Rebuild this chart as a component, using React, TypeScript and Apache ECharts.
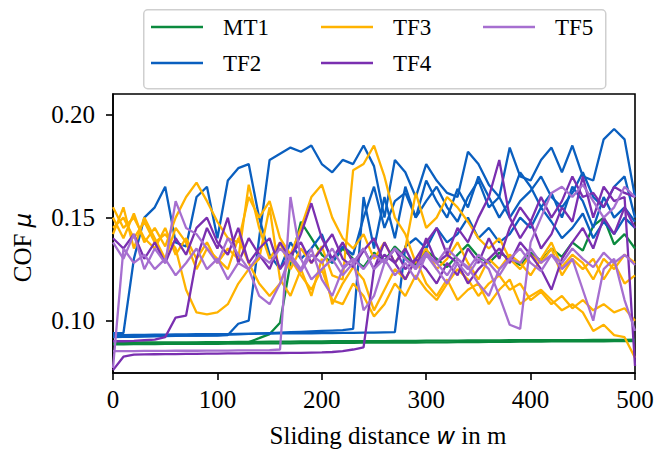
import React, { useEffect, useRef } from "react";
import * as echarts from "echarts";

// Sliding distance w in m (sample grid)
const distance = [
  0, 10, 20, 30, 40, 50, 60, 70, 80, 90,
  100, 110, 120, 130, 140, 150, 160, 170, 180, 190,
  200, 210, 220, 230, 240, 250, 260, 270, 280, 290,
  300, 310, 320, 330, 340, 350, 360, 370, 380, 390,
  400, 410, 420, 430, 440, 450, 460, 470, 480, 490,
  500,
];

// MT1 runs
const mt1Run1 = [
  0.0885, 0.0885, 0.0886, 0.0886, 0.0886, 0.0887, 0.0887, 0.0887, 0.0888, 0.0888,
  0.0888, 0.0889, 0.0889, 0.0889, 0.0890, 0.0890, 0.0890, 0.0890, 0.0891, 0.0891,
  0.0891, 0.0892, 0.0892, 0.0892, 0.0893, 0.0893, 0.0893, 0.0894, 0.0894, 0.0894,
  0.0895, 0.0895, 0.0895, 0.0896, 0.0896, 0.0896, 0.0897, 0.0897, 0.0897, 0.0898,
  0.0898, 0.0898, 0.0899, 0.0899, 0.0899, 0.0900, 0.0900, 0.0900, 0.0901, 0.0901,
  0.0901,
];
const mt1Run2 = [
  0.0893, 0.0893, 0.0893, 0.0894, 0.0894, 0.0894, 0.0895, 0.0895, 0.0895, 0.0896,
  0.0896, 0.0896, 0.0897, 0.0897, 0.0897, 0.0898, 0.0898, 0.0898, 0.0899, 0.0899,
  0.0899, 0.0900, 0.0900, 0.0900, 0.0901, 0.0901, 0.0901, 0.0902, 0.0902, 0.0902,
  0.0903, 0.0903, 0.0903, 0.0903, 0.0904, 0.0904, 0.0904, 0.0904, 0.0905, 0.0905,
  0.0905, 0.0905, 0.0906, 0.0906, 0.0906, 0.0906, 0.0907, 0.0907, 0.0907, 0.0907,
  0.0908,
];
const mt1Run3 = [
  0.0890, 0.0890, 0.0890, 0.0890, 0.0891, 0.0891, 0.0891, 0.0891, 0.0892, 0.0892,
  0.0892, 0.0893, 0.0893, 0.0896, 0.0915, 0.0935, 0.0990, 0.1280, 0.1480, 0.1400,
  0.1320, 0.1280, 0.1350, 0.1300, 0.1260, 0.1330, 0.1290, 0.1360, 0.1310, 0.1270,
  0.1340, 0.1300, 0.1260, 0.1320, 0.1370, 0.1310, 0.1280, 0.1330, 0.1300, 0.1270,
  0.1330, 0.1290, 0.1350, 0.1310, 0.1380, 0.1340, 0.1460, 0.1500, 0.1370, 0.1420,
  0.1350,
];

// TF2 runs
const tf2Run1 = [
  0.0940, 0.0940, 0.1300, 0.1500, 0.1550, 0.1650, 0.1380, 0.1360, 0.1600, 0.1650,
  0.1400, 0.1680, 0.1740, 0.1760, 0.1500, 0.1320, 0.1250, 0.1380, 0.1300, 0.1350,
  0.1420, 0.1280, 0.1360, 0.1320, 0.1500, 0.1650, 0.1450, 0.1580, 0.1620, 0.1500,
  0.1580, 0.1650, 0.1550, 0.1480, 0.1600, 0.1680, 0.1550, 0.1600, 0.1500, 0.1580,
  0.1630, 0.1700, 0.1600, 0.1550, 0.1620, 0.1720, 0.1600, 0.1550, 0.1650, 0.1700,
  0.1500,
];
const tf2Run2 = [
  0.0925, 0.0925, 0.0925, 0.0926, 0.0926, 0.0926, 0.0927, 0.0927, 0.0927, 0.0928,
  0.0928, 0.0930, 0.0985, 0.1000, 0.1400, 0.1780, 0.1810, 0.1840, 0.1820, 0.1850,
  0.1760, 0.1720, 0.1780, 0.1760, 0.1850, 0.1750, 0.1500, 0.1780, 0.1720, 0.1600,
  0.1760, 0.1680, 0.1620, 0.1600, 0.1820, 0.1760, 0.1660, 0.1600, 0.1840, 0.1700,
  0.1680, 0.1780, 0.1840, 0.1720, 0.1850, 0.1700, 0.1680, 0.1880, 0.1930, 0.1880,
  0.1600,
];
const tf2Run3 = [
  0.0920, 0.0921, 0.0922, 0.0923, 0.0924, 0.0925, 0.0926, 0.0927, 0.0928, 0.0929,
  0.0930, 0.0932, 0.0934, 0.0936, 0.0938, 0.0940, 0.0942, 0.0944, 0.0946, 0.0948,
  0.0950, 0.0952, 0.0954, 0.0960, 0.1600, 0.1350, 0.1600, 0.1400, 0.1650, 0.1500,
  0.1680, 0.1580, 0.1500, 0.1640, 0.1550, 0.1700, 0.1600, 0.1500, 0.1580, 0.1720,
  0.1650, 0.1550, 0.1620, 0.1500, 0.1650, 0.1580, 0.1450, 0.1600, 0.1500, 0.1550,
  0.1480,
];
const tf2Run4 = [
  0.0930, 0.0930, 0.0931, 0.0931, 0.0932, 0.0932, 0.0933, 0.0933, 0.0934, 0.0934,
  0.0935, 0.0935, 0.0936, 0.0936, 0.0937, 0.0937, 0.0938, 0.0938, 0.0939, 0.0939,
  0.0940, 0.0940, 0.0941, 0.0941, 0.0942, 0.0942, 0.0943, 0.0944, 0.1360, 0.1400,
  0.1350, 0.1450, 0.1380, 0.1420, 0.1500, 0.1400, 0.1450, 0.1380, 0.1420, 0.1500,
  0.1450, 0.1550, 0.1480, 0.1400, 0.1450, 0.1520, 0.1400, 0.1480, 0.1420, 0.1500,
  0.1450,
];

// TF3 runs
const tf3Run1 = [
  0.1500, 0.1400, 0.1520, 0.1380, 0.1450, 0.1360, 0.1500, 0.1600, 0.1670, 0.1580,
  0.1480, 0.1400, 0.1380, 0.1600, 0.1500, 0.1580, 0.1400, 0.1320, 0.1450, 0.1600,
  0.1660, 0.1500, 0.1400, 0.1350, 0.1420, 0.1300, 0.1380, 0.1280, 0.1350, 0.1620,
  0.1450, 0.1500, 0.1600, 0.1550, 0.1480, 0.1400, 0.1350, 0.1400, 0.1300, 0.1250,
  0.1320, 0.1280, 0.1350, 0.1220, 0.1300, 0.1250, 0.1300, 0.1200, 0.1280, 0.1180,
  0.1220,
];
const tf3Run2 = [
  0.1450, 0.1500, 0.1400, 0.1480, 0.1380, 0.1420, 0.1350, 0.1150, 0.1040, 0.1030,
  0.1040, 0.1080, 0.1180, 0.1250, 0.1300, 0.1550, 0.1200, 0.1120, 0.1250, 0.1120,
  0.1300, 0.1080, 0.1180, 0.1260, 0.1200, 0.1050, 0.1150, 0.1250, 0.1200, 0.1300,
  0.1180, 0.1120, 0.1200, 0.1100, 0.1150, 0.1180, 0.1080, 0.1150, 0.1200, 0.1080,
  0.1120, 0.1150, 0.1100, 0.1050, 0.1080, 0.1040, 0.0950, 0.0980, 0.0930, 0.0920,
  0.0820,
];
const tf3Run3 = [
  0.1550, 0.1450, 0.1500, 0.1400, 0.1350, 0.1450, 0.1320, 0.1400, 0.1300, 0.1380,
  0.1280, 0.1350, 0.1300, 0.1660, 0.1450, 0.1300, 0.1380, 0.1250, 0.1350, 0.1280,
  0.1360, 0.1220, 0.1200, 0.1730, 0.1760, 0.1850, 0.1700, 0.1500, 0.1420, 0.1280,
  0.1350, 0.1250, 0.1300, 0.1380, 0.1280, 0.1200, 0.1300, 0.1250, 0.1320, 0.1280,
  0.1220, 0.1300, 0.1380, 0.1260, 0.1320, 0.1280, 0.1200, 0.1300, 0.1250, 0.1320,
  0.1280,
];
const tf3Run4 = [
  0.1420, 0.1550, 0.1350, 0.1500, 0.1400, 0.1300, 0.1450, 0.1380, 0.1250, 0.1350,
  0.1300, 0.1250, 0.1400, 0.1280, 0.1180, 0.1120, 0.1180, 0.1300, 0.1220, 0.1150,
  0.1250, 0.1100, 0.1080, 0.1180, 0.1120, 0.1020, 0.1080, 0.1180, 0.1120, 0.1220,
  0.1150, 0.1100, 0.1180, 0.1250, 0.1200, 0.1120, 0.1180, 0.1220, 0.1150, 0.1180,
  0.1100, 0.1140, 0.1080, 0.1120, 0.1060, 0.1100, 0.1050, 0.1080, 0.1040, 0.1060,
  0.1000,
];

// TF4 runs
const tf4Run1 = [
  0.0760, 0.0825, 0.0835, 0.0836, 0.0837, 0.0838, 0.0838, 0.0839, 0.0839, 0.0840,
  0.0840, 0.0841, 0.0841, 0.0842, 0.0842, 0.0843, 0.0843, 0.0844, 0.0844, 0.0845,
  0.0846, 0.0848, 0.0852, 0.0860, 0.0870, 0.1250, 0.1380, 0.1280, 0.1350, 0.1250,
  0.1400, 0.1280, 0.1320, 0.1450, 0.1380, 0.1500, 0.1600, 0.1780, 0.1500, 0.1400,
  0.1480, 0.1350, 0.1420, 0.1550, 0.1480, 0.1700, 0.1500, 0.1650, 0.1580, 0.1600,
  0.0780,
];
const tf4Run2 = [
  0.0900, 0.0900, 0.0902, 0.0905, 0.0908, 0.0920, 0.1015, 0.1025, 0.1300, 0.1450,
  0.1350, 0.1500, 0.1280, 0.1400, 0.1320, 0.1250, 0.1380, 0.1300, 0.1420, 0.1570,
  0.1400, 0.1300, 0.1380, 0.1280, 0.1350, 0.1250, 0.1320, 0.1280, 0.1200, 0.1300,
  0.1250, 0.1180, 0.1280, 0.1220, 0.1350, 0.1280, 0.1400, 0.1300, 0.1450, 0.1550,
  0.1480, 0.1600, 0.1500, 0.1580, 0.1700, 0.1600, 0.1620, 0.1550, 0.1650, 0.1620,
  0.1600,
];
const tf4Run3 = [
  0.1400, 0.1350, 0.1420, 0.1300, 0.1380, 0.1280, 0.1400, 0.1320, 0.1450, 0.1500,
  0.1380, 0.1320, 0.1450, 0.1280, 0.1350, 0.1400, 0.1250, 0.1320, 0.1380, 0.1280,
  0.1350, 0.1420, 0.1300, 0.1260, 0.1340, 0.1400, 0.1280, 0.1350, 0.1250, 0.1300,
  0.1380, 0.1450, 0.1320, 0.1280, 0.1180, 0.1250, 0.1300, 0.1350, 0.1280, 0.1380,
  0.1320, 0.1250, 0.1150, 0.1300, 0.1380, 0.1450, 0.1350, 0.1500, 0.1420, 0.1550,
  0.1450,
];

// TF5 runs
const tf5Run1 = [
  0.0770, 0.1350, 0.1280, 0.1320, 0.1250, 0.1300, 0.1220, 0.1280, 0.1350, 0.1250,
  0.1300, 0.1200, 0.1280, 0.1250, 0.1320, 0.1280, 0.1350, 0.1300, 0.1240, 0.1320,
  0.1280, 0.1350, 0.1260, 0.1300, 0.1250, 0.1320, 0.1280, 0.1350, 0.1300, 0.1260,
  0.1330, 0.1280, 0.1350, 0.1300, 0.1250, 0.1320, 0.1280, 0.1220, 0.1300, 0.1350,
  0.1280, 0.1240, 0.1320, 0.1280, 0.1350, 0.1300, 0.1260, 0.1330, 0.1280, 0.1320,
  0.1270,
];
const tf5Run2 = [
  0.0852, 0.0852, 0.0852, 0.0853, 0.0853, 0.0853, 0.0854, 0.0854, 0.0854, 0.0855,
  0.0855, 0.0855, 0.0856, 0.0856, 0.0856, 0.0857, 0.0860, 0.1600, 0.1300, 0.1200,
  0.1250, 0.1300, 0.1220, 0.1280, 0.1350, 0.1250, 0.1300, 0.1220, 0.1280, 0.1200,
  0.1320, 0.1250, 0.1180, 0.1280, 0.1220, 0.1300, 0.1250, 0.1120, 0.0980, 0.0960,
  0.1380, 0.1500, 0.1620, 0.1650, 0.1600, 0.1660, 0.1580, 0.1500, 0.1550, 0.1650,
  0.1600,
];
const tf5Run3 = [
  0.1380, 0.1300, 0.1420, 0.1250, 0.1350, 0.1280, 0.1580, 0.1450, 0.1420, 0.1350,
  0.1280, 0.1400, 0.1320, 0.1250, 0.1120, 0.1080, 0.1180, 0.1320, 0.1250, 0.1350,
  0.1200, 0.1120, 0.1250, 0.1300, 0.1050, 0.1120, 0.1280, 0.1350, 0.1300, 0.1250,
  0.1320, 0.1280, 0.1220, 0.1300, 0.1260, 0.1180, 0.1120, 0.1250, 0.1300, 0.1280,
  0.1350, 0.1280, 0.1320, 0.1250, 0.1300, 0.1150, 0.1000, 0.1250, 0.1300, 0.1100,
  0.0950,
];

const groupNames = ["MT1", "TF2", "TF3", "TF4", "TF5"];
const groupColors = ["#0b8a3e", "#0a5fbf", "#ffb300", "#7a2fb0", "#a66fd0"];
const groupRuns = [
  [mt1Run1, mt1Run2, mt1Run3],
  [tf2Run1, tf2Run2, tf2Run3, tf2Run4],
  [tf3Run1, tf3Run2, tf3Run3, tf3Run4],
  [tf4Run1, tf4Run2, tf4Run3],
  [tf5Run1, tf5Run2, tf5Run3],
];

const yTicks = [0.1, 0.15, 0.2];

const SERIF = "Liberation Serif";

export default function App() {
  const ref = useRef<HTMLDivElement>(null);

  useEffect(() => {
    if (!ref.current) return;
    const chart = echarts.init(ref.current, undefined, { renderer: "svg" });

    const series: any[] = [];
    groupRuns.forEach((runs, gi) => {
      runs.forEach((vals) => {
        series.push({
          type: "line",
          name: groupNames[gi],
          data: distance.map((d, i) => [d, vals[i]]),
          symbol: "none",
          showSymbol: false,
          silent: true,
          lineStyle: { width: 2.3, color: groupColors[gi] },
          itemStyle: { color: groupColors[gi] },
        });
      });
    });

    const legendPos: [string, number, number][] = [
      ["MT1", 151, 14],
      ["TF3", 321, 14],
      ["TF5", 483, 14],
      ["TF2", 151, 50],
      ["TF4", 321, 50],
    ];

    const legends = legendPos.map(([n, l, t]) => ({
      data: [n],
      left: l,
      top: t,
      padding: 0,
      icon: "rect",
      itemWidth: 52,
      itemHeight: 2.6,
      selectedMode: false,
      textStyle: {
        fontFamily: SERIF,
        fontSize: 23,
        color: "#000",
        lineHeight: 26,
        padding: [0, 0, 0, 15],
      },
    }));

    chart.setOption({
      animation: false,
      backgroundColor: "#fff",
      textStyle: { fontFamily: SERIF },
      graphic: [
        {
          type: "rect",
          left: 143,
          top: 9,
          shape: { width: 462, height: 79, r: 4 },
          style: { fill: "#fff", stroke: "#cfcfcf", lineWidth: 1.5 },
          z: -1,
        },
      ],
      legend: legends,
      grid: {
        left: 113,
        right: 22,
        top: 94,
        bottom: 81,
        show: true,
        borderColor: "#000",
        borderWidth: 1.6,
        backgroundColor: "transparent",
      },
      xAxis: {
        type: "value",
        min: 0,
        max: 500,
        interval: 100,
        name: "Sliding distance {i|w} in m",
        nameLocation: "middle",
        nameGap: 50,
        nameTextStyle: {
          fontFamily: SERIF,
          fontSize: 25,
          color: "#000",
          padding: [0, 0, 0, 28],
          rich: {
            i: { fontFamily: "DejaVu Sans", fontStyle: "italic", fontSize: 23, color: "#000" },
          },
        },
        axisLine: { show: true, lineStyle: { color: "#000", width: 1.6 } },
        axisTick: { show: true, length: 7, lineStyle: { color: "#000", width: 1.6 } },
        axisLabel: { margin: 14, fontFamily: SERIF, fontSize: 25, color: "#000" },
        splitLine: { show: false },
      },
      yAxis: {
        type: "value",
        min: 0.0746,
        max: 0.21,
        name: "COF {i|μ}",
        nameLocation: "middle",
        nameGap: 78,
        nameRotate: 90,
        nameTextStyle: {
          fontFamily: SERIF,
          fontSize: 25,
          color: "#000",
          padding: [0, 28, 0, 0],
          rich: {
            i: { fontFamily: "DejaVu Sans", fontStyle: "italic", fontSize: 23, color: "#000" },
          },
        },
        axisLine: { show: true, lineStyle: { color: "#000", width: 1.6 } },
        axisTick: {
          show: true,
          length: 7,
          customValues: yTicks,
          lineStyle: { color: "#000", width: 1.6 },
        },
        axisLabel: {
          margin: 18,
          customValues: yTicks,
          fontFamily: SERIF,
          fontSize: 25,
          color: "#000",
          formatter: (v: number) => v.toFixed(2),
        },
        splitLine: { show: false },
      },
      series,
    });

    return () => chart.dispose();
  }, []);

  return (
    <div
      ref={ref}
      style={{ position: "fixed", left: 0, top: 0, width: 657, height: 454, background: "#fff" }}
    />
  );
}
